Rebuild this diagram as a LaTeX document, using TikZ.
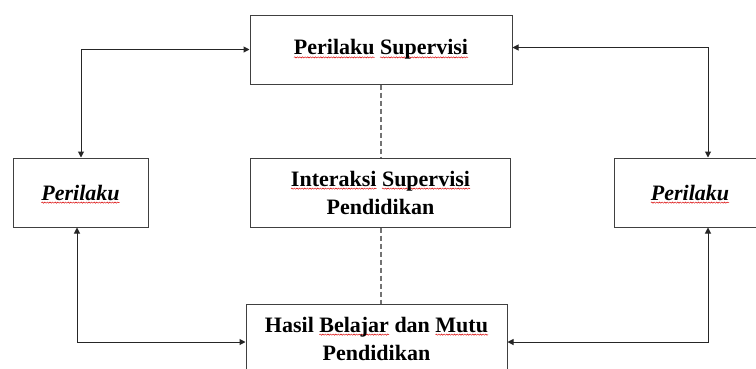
\documentclass[tikz,border=0pt]{standalone}
\usepackage{fontspec}
\setmainfont{Liberation Serif}
\usetikzlibrary{arrows.meta,decorations.pathmorphing}
\newsavebox\sqbox
\newlength\sqwd
\newcommand\sqw[1]{\sbox\sqbox{#1}\setlength\sqwd{\wd\sqbox}\rlap{\tikz[overlay,x=1cm,y=1cm,baseline=0pt]\draw[red!85!black,line width=0.45pt,decorate,decoration={snake,amplitude=0.6pt,segment length=2.6pt}] (0pt,-2.6pt) -- (\sqwd,-2.6pt);}\usebox\sqbox}
\tikzset{
  box/.style={draw=black!75, line width=1pt, rectangle, minimum height=69pt, align=center,
    font=\fontsize{22}{28}\selectfont\bfseries, inner sep=0pt},
  link/.style={draw=black!85, line width=1pt, {Triangle[length=6pt,width=6pt]}-{Triangle[length=6pt,width=6pt]}},
  dashlink/.style={draw=black!55, line width=1.2pt, dash pattern=on 5pt off 3pt}
}
\begin{document}
\begin{tikzpicture}[x=1pt,y=-1pt]
\clip (0,0) rectangle (756,368);
\node[box, minimum width=262pt] (top) at (381,49.5) {\sqw{Perilaku} \sqw{Supervisi}};
\node[box, minimum width=135pt] (left) at (80.5,192.5) {\textit{\sqw{Perilaku}}};
\node[box, minimum width=260pt] (mid) at (380.5,192.5) {\sqw{Interaksi} \sqw{Supervisi}\\Pendidikan};
\node[box, minimum width=152pt] (right) at (690,192.5) {\textit{\sqw{Perilaku}}};
\node[box, minimum width=261pt] (bot) at (376.5,338.5) {Hasil \sqw{Belajar} dan \sqw{Mutu}\\Pendidikan};
\coordinate (tl) at (81,49.5);
\coordinate (tr) at (708,47.5);
\coordinate (bl) at (77,342);
\coordinate (br) at (708,342);
\draw[link] (left.north -| tl) -- (tl) -- (top.west |- tl);
\draw[link] (top.east |- tr) -- (tr) -- (right.north -| tr);
\draw[link] (left.south -| bl) -- (bl) -- (bot.west |- bl);
\draw[link] (right.south -| br) -- (br) -- (bot.east |- br);
\coordinate (dx) at (381,0);
\draw[dashlink] (top.south -| dx) -- (mid.north -| dx);
\draw[dashlink] (mid.south -| dx) -- (bot.north -| dx);
\end{tikzpicture}
\end{document}
